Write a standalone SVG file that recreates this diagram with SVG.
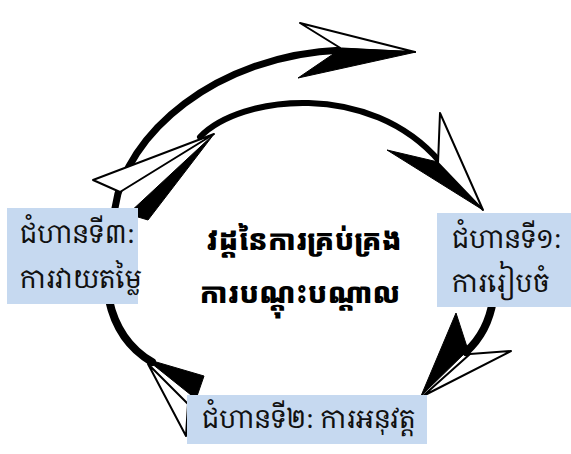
<svg xmlns="http://www.w3.org/2000/svg" width="571" height="454" viewBox="0 0 571 454">
<style>
.shaft{fill:none;stroke:#000;stroke-linecap:round}
.blk{fill:#000;stroke:#000;stroke-width:1;stroke-linejoin:round}
.wht{fill:#fff;stroke:#000;stroke-width:2;stroke-linejoin:round}
.box{fill:#c6d9f0}
.lbl{font-family:"Noto Serif Khmer","Noto Sans Khmer","Khmer OS","Noto Sans",serif;font-size:26px;fill:#111}
.ctr{font-family:"Noto Sans Khmer","Noto Serif Khmer","Khmer OS","Noto Sans",sans-serif;font-size:28px;font-weight:900;fill:#000;text-anchor:middle}
</style>
<rect width="571" height="454" fill="#fff"/>
<g id="connectors">
  <path class="shaft" stroke-width="7" d="M115,208 C125,135 215,55 342,50"/>
  <polygon class="wht" points="300,23 342,49 415,52"/>
  <polygon class="blk" points="298,78 342,48 416,52"/>
  <polygon class="wht" points="93,180 214,134 120,192"/>
  <polygon class="blk" points="214,134 128,214 148,220"/>
  <path class="shaft" stroke-width="6" d="M200,137 C240,95 370,80 440,162"/>
  <polygon class="blk" points="387,150 438,162 483,210"/>
  <polygon class="wht" points="440,113 438,163 483,210"/>
  <path class="shaft" stroke-width="8" d="M493,300 Q488,332 466,352"/>
  <polygon class="blk" points="456,313 468,350 421,396"/>
  <polygon class="wht" points="511,351 470,354 423,396"/>
  <path class="shaft" stroke-width="8" d="M109,300 Q118,342 152,362"/>
  <polygon class="blk" points="146,359 204,376 196,399"/>
  <polygon class="wht" points="148,364 186,436 188,404"/>
</g>
<g id="center">
  <text class="ctr" x="304" y="250">វដ្ដនៃការគ្រប់គ្រង</text>
  <text class="ctr" x="300" y="303">ការបណ្ដុះបណ្ដាល</text>
</g>
<g id="step1">
  <rect class="box" x="437" y="213" width="134" height="94"/>
  <text class="lbl" x="452" y="248">ជំហានទី១:</text>
  <text class="lbl" x="452" y="292">ការរៀបចំ</text>
</g>
<g id="step2">
  <rect class="box" x="187" y="395" width="240" height="49"/>
  <text class="lbl" x="202" y="428">ជំហានទី២: ការអនុវត្ត</text>
</g>
<g id="step3">
  <rect class="box" x="7" y="208" width="131" height="96"/>
  <text class="lbl" x="20" y="243">ជំហានទី៣:</text>
  <text class="lbl" x="20" y="288">ការវាយតម្លៃ</text>
</g>
</svg>
